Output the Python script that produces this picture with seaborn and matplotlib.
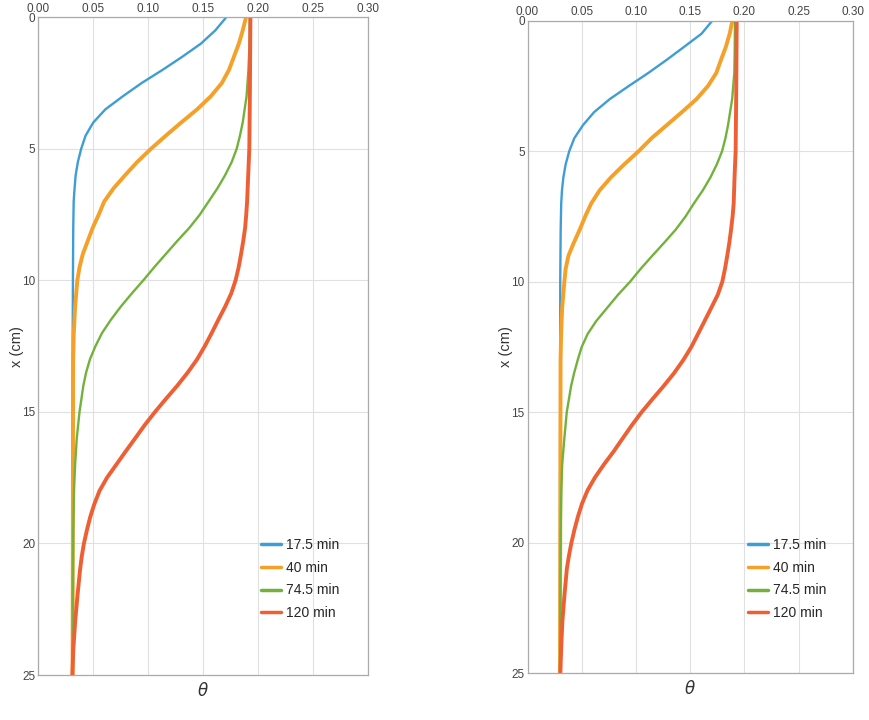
import numpy as np
import pandas as pd
import matplotlib
matplotlib.use("Agg")
import matplotlib.pyplot as plt
import seaborn as sns

sns.set_theme(style="white")
plt.rcParams['font.family'] = ['Liberation Sans', 'DejaVu Sans']

labels = ["17.5 min", "40 min", "74.5 min", "120 min"]
colors = ["#3f9dd6", "#f5a028", "#72b23c", "#ee5f34"]
widths = [1.7, 2.8, 1.7, 2.8]

# ---- panel (a) ----
a_blue_d = [0, 0.5, 1.0, 1.5, 2.0, 2.5, 3.0, 3.5, 4.0, 4.5, 5.0, 5.5, 6.0, 6.5, 7.0, 8.0, 10, 12, 15, 20, 25]
a_blue_t = [0.171, 0.161, 0.148, 0.131, 0.113, 0.094, 0.077, 0.061, 0.050, 0.043, 0.039, 0.036, 0.034, 0.033, 0.0322, 0.0318, 0.0315, 0.0313, 0.0312, 0.0312, 0.0312]

a_orange_d = [0, 0.5, 1.0, 1.5, 2.0, 2.5, 3.0, 3.5, 4.0, 4.5, 5.0, 5.5, 6.0, 6.5, 7.0, 7.5, 8.0, 8.5, 9.0, 9.5, 10, 11, 12, 13, 25]
a_orange_t = [0.189, 0.186, 0.1825, 0.178, 0.1735, 0.167, 0.157, 0.1445, 0.130, 0.116, 0.1025, 0.090, 0.079, 0.0685, 0.060, 0.055, 0.0495, 0.045, 0.0405, 0.0375, 0.0355, 0.0335, 0.0323, 0.0317, 0.0312]

a_green_d = [0, 1, 2, 3, 4, 4.5, 5, 5.5, 6, 6.5, 7, 7.5, 8, 8.5, 9, 9.5, 10, 10.5, 11, 11.5, 12, 12.5, 13, 13.5, 14, 15, 16, 17, 18, 19.5, 22, 25]
a_green_t = [0.1925, 0.1922, 0.1912, 0.1895, 0.186, 0.1835, 0.1805, 0.176, 0.170, 0.163, 0.155, 0.147, 0.1375, 0.1265, 0.116, 0.1055, 0.0955, 0.085, 0.075, 0.066, 0.058, 0.052, 0.047, 0.0435, 0.041, 0.0375, 0.035, 0.0335, 0.0325, 0.0318, 0.0313, 0.0312]

a_red_d = [0, 3, 5, 6, 7, 7.5, 8, 8.5, 9, 9.5, 10, 10.5, 11, 11.5, 12, 12.5, 13, 13.5, 14, 14.5, 15, 15.5, 16, 16.5, 17, 17.5, 18, 18.5, 19, 19.5, 20, 20.5, 21, 22, 23, 24, 25]
a_red_t = [0.193, 0.1925, 0.192, 0.191, 0.190, 0.1892, 0.1882, 0.1865, 0.1845, 0.1823, 0.1795, 0.1755, 0.170, 0.1638, 0.1578, 0.1515, 0.1445, 0.136, 0.1265, 0.1162, 0.1062, 0.0968, 0.0882, 0.0795, 0.071, 0.0625, 0.0557, 0.051, 0.0472, 0.0442, 0.0415, 0.0395, 0.038, 0.0356, 0.0335, 0.0319, 0.031]

# ---- panel (b) ----
b_blue_d = [0, 0.5, 1.0, 1.5, 2.0, 2.5, 3.0, 3.5, 4.0, 4.5, 5.0, 5.5, 6.0, 6.5, 7.0, 8.0, 10, 25]
b_blue_t = [0.1705, 0.1605, 0.1445, 0.1284, 0.1115, 0.0935, 0.076, 0.0615, 0.0512, 0.0432, 0.0385, 0.0352, 0.0331, 0.0318, 0.0311, 0.0306, 0.0302, 0.030]

b_orange_d = [0, 0.5, 1.0, 1.5, 2.0, 2.5, 3.0, 3.5, 4.0, 4.5, 5.0, 5.5, 6.0, 6.5, 7.0, 7.5, 8.0, 8.5, 9.0, 9.5, 10, 11, 12, 13, 25]
b_orange_t = [0.189, 0.1865, 0.183, 0.1785, 0.1742, 0.1665, 0.156, 0.1425, 0.1285, 0.1145, 0.1025, 0.0893, 0.077, 0.0665, 0.0588, 0.0532, 0.0482, 0.0428, 0.0378, 0.0352, 0.034, 0.032, 0.031, 0.0305, 0.030]

b_green_d = [0, 1, 2, 3, 4, 4.5, 5, 5.5, 6, 6.5, 7, 7.5, 8, 8.5, 9, 9.5, 10, 10.5, 11, 11.5, 12, 12.5, 13, 13.5, 14, 15, 16, 17, 18, 19.5, 22, 25]
b_green_t = [0.1914, 0.1912, 0.1908, 0.1888, 0.185, 0.1826, 0.1795, 0.1747, 0.1688, 0.1617, 0.1535, 0.1458, 0.1368, 0.1262, 0.1152, 0.1045, 0.0946, 0.0835, 0.0735, 0.0635, 0.0555, 0.050, 0.0463, 0.043, 0.0402, 0.0362, 0.034, 0.032, 0.0312, 0.0306, 0.0302, 0.030]

b_red_d = [0, 3, 5, 6, 7, 7.5, 8, 8.5, 9, 9.5, 10, 10.5, 11, 11.5, 12, 12.5, 13, 13.5, 14, 14.5, 15, 15.5, 16, 16.5, 17, 17.5, 18, 18.5, 19, 19.5, 20, 20.5, 21, 22, 23, 24, 25]
b_red_t = [0.193, 0.1925, 0.192, 0.191, 0.1902, 0.1892, 0.1878, 0.1862, 0.1843, 0.1822, 0.1797, 0.1755, 0.1695, 0.1634, 0.1573, 0.1511, 0.1437, 0.1352, 0.1255, 0.1152, 0.1052, 0.0962, 0.0878, 0.0795, 0.0705, 0.0622, 0.0553, 0.0503, 0.0465, 0.0433, 0.0405, 0.0382, 0.0363, 0.0341, 0.0322, 0.0311, 0.0303]

x_ticks = [0.00, 0.05, 0.10, 0.15, 0.20, 0.25, 0.30]
x_ticklabels = ["0.00", "0.05", "0.10", "0.15", "0.20", "0.25", "0.30"]
y_ticks = [0, 5, 10, 15, 20, 25]

panel_a = [(a_blue_t, a_blue_d), (a_orange_t, a_orange_d), (a_green_t, a_green_d), (a_red_t, a_red_d)]
panel_b = [(b_blue_t, b_blue_d), (b_orange_t, b_orange_d), (b_green_t, b_green_d), (b_red_t, b_red_d)]

fig = plt.figure(figsize=(8.69, 7.2), dpi=100)
ax_a = fig.add_axes([38.3 / 869, 1 - 675 / 720, (368 - 38.3) / 869, (675 - 17.3) / 720])
ax_b = fig.add_axes([527.5 / 869, 1 - 673.3 / 720, (852.7 - 527.5) / 869, (673.3 - 20.7) / 720])

for ax, series, leg_x, leg_y in [(ax_a, panel_a, 0.675, 0.208), (ax_b, panel_b, 0.678, 0.207)]:
    for (t, d), lab, col, lw in zip(series, labels, colors, widths):
        df = pd.DataFrame({"theta": t, "depth": d})
        sns.lineplot(data=df, x="theta", y="depth", orient="y", sort=True,
                     estimator=None, color=col, linewidth=lw, label=lab, ax=ax)
    ax.set_xlim(0, 0.30)
    ax.set_ylim(25, 0)
    ax.xaxis.tick_top()
    ax.set_xticks(x_ticks)
    ax.set_xticklabels(x_ticklabels)
    ax.set_yticks(y_ticks)
    ax.tick_params(axis="both", length=0, labelsize=8.5, colors="#444444", pad=2)
    ax.grid(True, color="#e0e0e0", linewidth=0.8)
    ax.set_axisbelow(True)
    for s in ax.spines.values():
        s.set_color("#aaaaaa")
        s.set_linewidth(0.9)
    ax.set_ylabel("x (cm)", fontsize=10.5, color="#333333", labelpad=-1)
    ax.xaxis.set_label_position("bottom")
    ax.set_xlabel(r"$\theta$", fontsize=12, color="#333333", labelpad=4)
    leg = ax.legend(loc="upper left", bbox_to_anchor=(leg_x, leg_y), frameon=False,
                    fontsize=10, handlelength=1.45, labelspacing=0.62, handletextpad=0.35,
                    borderaxespad=0, borderpad=0)
    for h in leg.get_lines():
        h.set_linewidth(2.5)

fig.savefig("out.png", dpi=100)
